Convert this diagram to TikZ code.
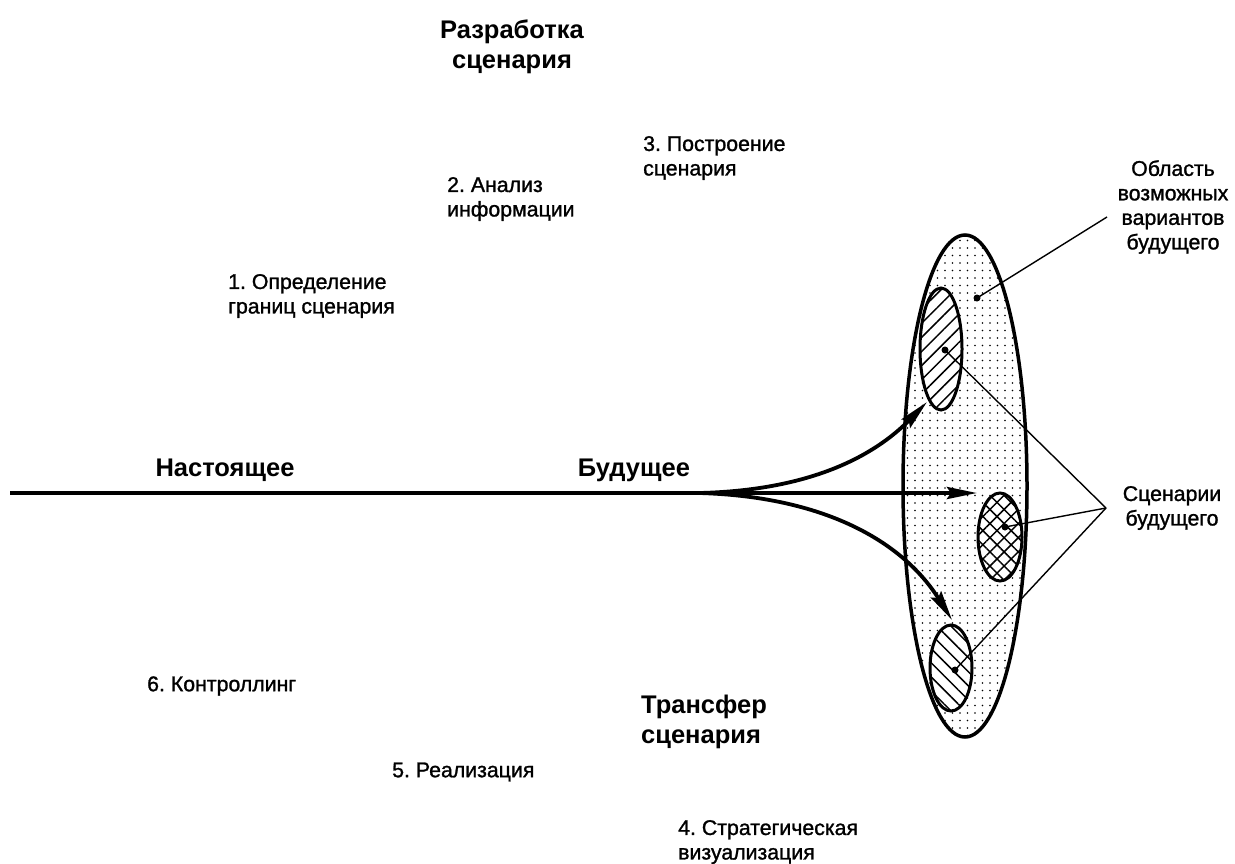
\documentclass[tikz,border=0pt]{standalone}
\usepackage{fontspec}
\setmainfont{Liberation Sans}
\newfontfamily\heavyfont[FakeBold=1.2]{Liberation Sans}
\usetikzlibrary{arrows.meta,patterns.meta}
\frenchspacing
\begin{document}
\begin{tikzpicture}[x=1pt,y=-1pt,
  lbl/.style={font=\heavyfont\fontsize{21.3}{24.5}\selectfont, align=left, anchor=west, inner sep=0pt},
  blbl/.style={font=\fontsize{25.5}{30}\selectfont\bfseries, inner sep=0pt},
  flow/.style={line width=3.8pt, -{Stealth[length=30pt,width=12pt,inset=4pt]}},
  leader/.style={line width=1.4pt},
  dotmark/.style={circle, fill=black, inner sep=0pt, minimum size=7pt},
  region/.style={line width=3.5pt, pattern={Dots[distance=7.5pt,radius=0.95pt]}},
  scen/.style={line width=3pt, draw, preaction={fill=white}}]
\useasboundingbox (0,0) rectangle (1235,863);
\fill[white] (0,0) rectangle (1235,863);

% ellipses
\coordinate (big) at (965,486);
\coordinate (eU) at (941,349);
\coordinate (eM) at (1000,537);
\coordinate (eL) at (951,668);
\draw[region] (big) ellipse [x radius=62, y radius=251];
\draw[scen, pattern={Lines[angle=45,distance=10pt,line width=1.5pt]}] (eU) ellipse [x radius=21, y radius=61];
\draw[scen, pattern={Hatch[angle=45,distance=10pt,line width=1.5pt]}] (eM) ellipse [x radius=22, y radius=44];
\draw[scen, pattern={Lines[angle=-45,distance=10pt,line width=1.5pt]}] (eL) ellipse [x radius=21, y radius=43];

% arrows
\coordinate (start) at (10,493);
\coordinate (fork) at (700,493);
\coordinate (tipU) at (927,402);
\coordinate (tipM) at (977,493);
\coordinate (tipL) at (952,620);
\draw[flow] (start) -- (tipM);
\draw[flow] (fork) .. controls (820,490) and (880,450) .. (tipU);
\draw[flow] (fork) .. controls (830,497) and (905,545) .. (tipL);

% dots and leaders
\node[dotmark] (dA) at (977,298) {};
\node[dotmark] (dU) at (945,350) {};
\node[dotmark] (dM) at (1005,527) {};
\node[dotmark] (dL) at (955,670) {};
\coordinate (conv) at (1106,508);
\coordinate (areaEnd) at (1107,217);
\draw[leader] (dA.center) -- (areaEnd);
\draw[leader] (dU.center) -- (conv);
\draw[leader] (dM.center) -- (conv);
\draw[leader] (dL.center) -- (conv);

% labels
\node[blbl, align=center] (dev) at (512,47) {Разработка\\сценария};
\node[blbl, align=left, anchor=west] (tr) at (641,722) {Трансфер\\сценария};
\node[blbl] (now) at (225,470) {Настоящее};
\node[blbl] (fut) at (634,470) {Будущее};
\node[lbl] (s1) at (228,296) {1. Определение\\границ сценария};
\node[lbl] (s2) at (447,199) {2. Анализ\\информации};
\node[lbl] (s3) at (643,158) {3. Построение\\сценария};
\node[lbl] (s4) at (678,842) {4. Стратегическая\\визуализация};
\node[lbl] (s5) at (392,772) {5. Реализация};
\node[lbl] (s6) at (147,686) {6. Контроллинг};
\node[lbl, anchor=center, align=center] (area) at (1173,207) {Область\\возможных\\вариантов\\будущего};
\node[lbl, anchor=center, align=center] (sc) at (1172,508) {Сценарии\\будущего};
\end{tikzpicture}
\end{document}
